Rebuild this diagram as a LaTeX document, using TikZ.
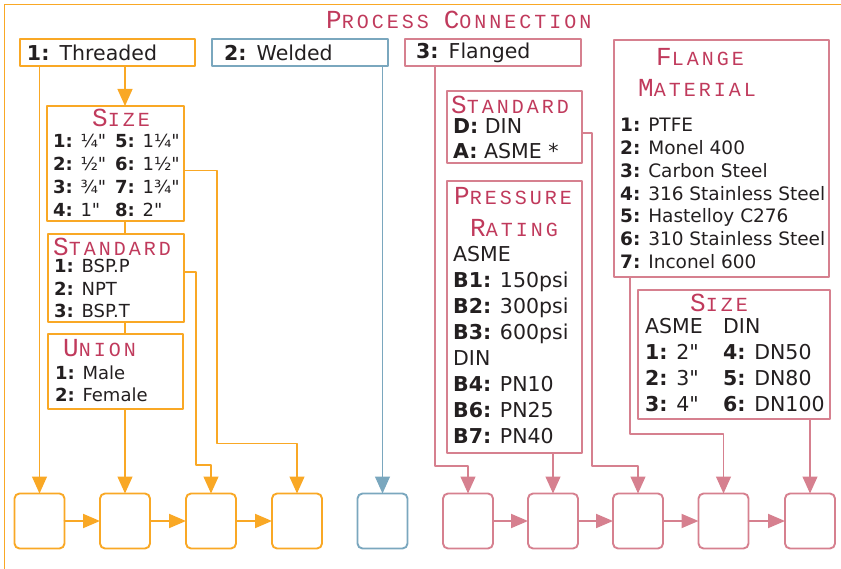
\documentclass[tikz,border=0pt]{standalone}
\usepackage{fontspec}
\setmainfont{DejaVu Sans}[Ligatures=TeXOff]
\newfontfamily\capsfont[LetterSpace=15]{Liberation Mono}
\usepackage{tikz}
\usetikzlibrary{arrows.meta,positioning,calc}
\definecolor{optorange}{HTML}{F9A825}
\definecolor{optblue}{HTML}{7AA7BE}
\definecolor{optpink}{HTML}{D6808F}
\definecolor{crimson}{HTML}{C03A5C}
\definecolor{ink}{HTML}{231F20}
\newcommand{\smcap}[2]{{\fontsize{26}{26}\selectfont #1}#2}
\newcommand{\opt}[2]{\textbf{#1:} #2}
\tikzset{
    every picture/.style={line cap=round,line join=round},
    optbox/.style={draw=#1,line width=1.2pt,inner sep=0pt,outer sep=0pt,
      anchor=north west},
    headbox/.style={draw=#1,line width=1.2pt,outer sep=0pt,anchor=north west,
      minimum height=27pt,align=left,text=ink,
      font=\fontsize{20.5}{24}\selectfont},
    heading/.style={anchor=base west,inner sep=0pt,text=crimson,
      font=\capsfont\fontsize{20}{20}\selectfont},
    optlist/.style={anchor=base west,inner sep=0pt,text=ink,
      font=\fontsize{18}{22.7}\selectfont},
    optlistL/.style={optlist,font=\fontsize{20.5}{25.9}\selectfont},
    stage/.style={draw=#1,fill=white,line width=1.9pt,rounded corners=5pt,
      minimum width=50pt,minimum height=55pt,outer sep=0pt},
    link/.style={draw=#1,line width=1.25pt,
      -{Triangle[length=17pt,width=15pt]}},
    chain/.style={draw=#1,line width=2pt,
      -{Triangle[length=17pt,width=14pt]}}
}

\begin{document}
\begin{tikzpicture}[x=1pt,y=-1pt]
  \useasboundingbox (0,0) rectangle (841,569);
  \draw[optorange,line width=1.2pt] (4.5,580) |- (850,4.5);
  \node[heading] (title) at (326,29) {\smcap{P}{ROCESS} \smcap{C}{ONNECTION}};

  % connection types
  \node[headbox=optorange,inner xsep=7pt,text width=161pt] (thr) at (20,39) {\opt{1}{Threaded}};
  \node[headbox=optblue,inner xsep=12pt,text width=152pt] (wel) at (212,39) {\opt{2}{Welded}};
  \node[headbox=optpink,inner xsep=11pt,text width=154pt] (flg) at (405,39) {\opt{3}{Flanged}};

  % threaded options
  \node[optbox=optorange,minimum width=137pt,minimum height=115pt] (tsize) at (47,106) {};
  \node[heading] (tsizeH) at (92,127) {\smcap{S}{IZE}};
  \node[optlist] (tsizeL) at (53,148) {\parbox[t]{128pt}{%
    \makebox[62pt][l]{\opt{1}{¼"}}\opt{5}{1¼"}\\
    \makebox[62pt][l]{\opt{2}{½"}}\opt{6}{1½"}\\
    \makebox[62pt][l]{\opt{3}{¾"}}\opt{7}{1¾"}\\
    \makebox[62pt][l]{\opt{4}{1"}}\opt{8}{2"}}};
  \node[optbox=optorange,minimum width=136pt,minimum height=88pt] (tstd) at (48,234) {};
  \node[heading] (tstdH) at (53,256) {\smcap{S}{TANDARD}};
  \node[optlist,font=\fontsize{18}{22.5}\selectfont] (tstdL) at (54,273) {\parbox[t]{128pt}{%
    \opt{1}{BSP.P}\\ \opt{2}{NPT}\\ \opt{3}{BSP.T}}};
  \node[optbox=optorange,minimum width=135pt,minimum height=75pt] (union) at (48,334) {};
  \node[heading] (unionH) at (63,357) {\smcap{U}{NION}};
  \node[optlist,font=\fontsize{18}{23}\selectfont] (unionL) at (55,379) {\parbox[t]{128pt}{%
    \opt{1}{Male}\\ \opt{2}{Female}}};

  % flanged options
  \node[optbox=optpink,minimum width=135pt,minimum height=72pt] (fstd) at (447,91) {};
  \node[heading] (fstdH) at (451,114) {\smcap{S}{TANDARD}};
  \node[optlistL,font=\fontsize{20.5}{25}\selectfont] (fstdL) at (453,134) {\parbox[t]{128pt}{%
    \opt{D}{DIN}\\ \opt{A}{ASME *}}};
  \node[optbox=optpink,minimum width=135pt,minimum height=272pt] (press) at (447,181) {};
  \node[heading] (pressH) at (454,205) {\smcap{P}{RESSURE}};
  \node[heading] (pressH2) at (470,237) {\smcap{R}{ATING}};
  \node[optlistL] (pressL) at (453,262) {\parbox[t]{128pt}{%
    ASME\\ \opt{B1}{150psi}\\ \opt{B2}{300psi}\\ \opt{B3}{600psi}\\
    DIN\\ \opt{B4}{PN10}\\ \opt{B6}{PN25}\\ \opt{B7}{PN40}}};
  \node[optbox=optpink,minimum width=215pt,minimum height=237pt] (fmat) at (614,40) {};
  \node[heading] (fmatH) at (656,66) {\smcap{F}{LANGE}};
  \node[heading] (fmatH2) at (638,97) {\smcap{M}{ATERIAL}};
  \node[optlist,font=\fontsize{18.5}{22.7}\selectfont] (fmatL) at (620,132) {\parbox[t]{208pt}{%
    \opt{1}{PTFE}\\ \opt{2}{Monel 400}\\ \opt{3}{Carbon Steel}\\
    \opt{4}{316 Stainless Steel}\\ \opt{5}{Hastelloy C276}\\
    \opt{6}{310 Stainless Steel}\\ \opt{7}{Inconel 600}}};
  \node[optbox=optpink,minimum width=192pt,minimum height=129pt] (fsize) at (638,290) {};
  \node[heading] (fsizeH) at (690,312) {\smcap{S}{IZE}};
  \node[optlistL,font=\fontsize{20.5}{25.7}\selectfont] (fsizeL) at (645,334) {\parbox[t]{185pt}{%
    \makebox[78pt][l]{ASME}DIN\\
    \makebox[78pt][l]{\opt{1}{2"}}\opt{4}{DN50}\\
    \makebox[78pt][l]{\opt{2}{3"}}\opt{5}{DN80}\\
    \makebox[78pt][l]{\opt{3}{4"}}\opt{6}{DN100}}};

  % code stages
  \foreach \i/\x in {1/39.5,2/125,3/211,4/297}
    \node[stage=optorange] (b\i) at (\x,521) {};
  \node[stage=optblue] (b5) at (382.5,521) {};
  \foreach \i/\x in {1/468,2/553,3/638,4/723.5,5/810}
    \node[stage=optpink] (p\i) at (\x,521) {};
  \foreach \i/\j in {1/2,2/3,3/4}
    \draw[chain=optorange] (b\i) -- (b\j);
  \foreach \i/\j in {1/2,2/3,3/4,4/5}
    \draw[chain=optpink] (p\i) -- (p\j);

  % threaded links
  \draw[link=optorange] (b1.north |- thr.south) -- (b1.north);
  \draw[link=optorange] (b2.north |- thr.south) -- (b2.north |- tsize.north);
  \draw[optorange,line width=1.25pt] (b2.north |- tsize.south) -- (b2.north |- tstd.north);
  \draw[optorange,line width=1.25pt] (b2.north |- tstd.south) -- (b2.north |- union.north);
  \draw[link=optorange] (b2.north |- union.south) -- (b2.north);
  \draw[link=optorange] ($(tstd.east)+(0,-6)$) -| ++(12,193) -| (b3.north);
  \draw[link=optorange] ($(tsize.east)+(0,7)$) -| ++(33,273) -| (b4.north);
  % welded link
  \draw[link=optblue] (b5.north |- wel.south) -- (b5.north);
  % flanged links
  \draw[link=optpink] ($(flg.south west)+(30,0)$) -- ++(0,400) -| (p1.north);
  \draw[link=optpink] (p2.north |- press.south) -- (p2.north);
  \draw[link=optpink] ($(fstd.east)+(0,6)$) -| ++(10,333) -| (p3.north);
  \draw[link=optpink] ($(fmat.south west)+(16,0)$) -- ++(0,157) -| (p4.north);
  \draw[link=optpink] (p5.north |- fsize.south) -- (p5.north);
\end{tikzpicture}
\end{document}
